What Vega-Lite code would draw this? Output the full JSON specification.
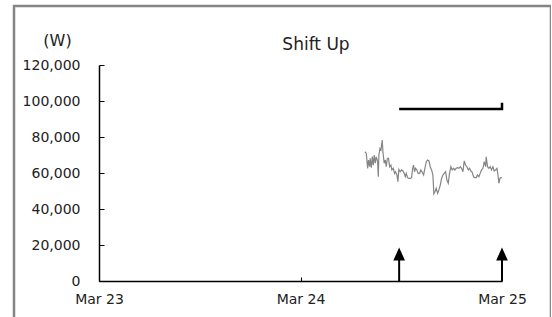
{
  "$schema": "https://vega.github.io/schema/vega-lite/v6.json",
  "autosize": "none",
  "padding": {"left": 14, "top": 6, "right": 0, "bottom": 0},
  "width": 537,
  "height": 315,
  "background": "white",
  "config": {
    "view": {"stroke": "#858585", "strokeWidth": 2.5},
    "font": "DejaVu Sans",
    "axis": {"grid": false, "domainColor": "#000", "domainWidth": 1.5, "tickColor": "#000", "tickWidth": 1, "labelFont": "DejaVu Sans", "labelFontSize": 14, "labelColor": "#222", "labelFlush": false}
  },
  "title": {"text": "Shift Up", "font": "DejaVu Sans", "fontSize": 17, "fontWeight": "normal", "color": "#222", "anchor": "middle", "frame": "group", "baseline": "alphabetic", "dx": 33.5, "dy": 65},
  "datasets": {
    "gray": [
      {"t": "2023-03-24T07:40", "v": 71800}, {"t": "2023-03-24T07:50", "v": 71000}, {"t": "2023-03-24T08:00", "v": 62600},
      {"t": "2023-03-24T08:06", "v": 67200}, {"t": "2023-03-24T08:14", "v": 63500}, {"t": "2023-03-24T08:18", "v": 68200},
      {"t": "2023-03-24T08:26", "v": 63000}, {"t": "2023-03-24T08:33", "v": 69100}, {"t": "2023-03-24T08:40", "v": 64400},
      {"t": "2023-03-24T08:47", "v": 70000}, {"t": "2023-03-24T08:54", "v": 65400}, {"t": "2023-03-24T09:01", "v": 69000},
      {"t": "2023-03-24T09:11", "v": 66300}, {"t": "2023-03-24T09:16", "v": 57900}, {"t": "2023-03-24T09:20", "v": 70000},
      {"t": "2023-03-24T09:28", "v": 73700}, {"t": "2023-03-24T09:35", "v": 72800}, {"t": "2023-03-24T09:44", "v": 78300},
      {"t": "2023-03-24T09:49", "v": 71800}, {"t": "2023-03-24T09:58", "v": 65400}, {"t": "2023-03-24T10:06", "v": 67200},
      {"t": "2023-03-24T10:13", "v": 63500}, {"t": "2023-03-24T10:20", "v": 67800}, {"t": "2023-03-24T10:29", "v": 68200},
      {"t": "2023-03-24T10:37", "v": 63500}, {"t": "2023-03-24T10:46", "v": 64400}, {"t": "2023-03-24T10:53", "v": 61700},
      {"t": "2023-03-24T11:03", "v": 62600}, {"t": "2023-03-24T11:12", "v": 59800}, {"t": "2023-03-24T11:19", "v": 60700},
      {"t": "2023-03-24T11:29", "v": 58900}, {"t": "2023-03-24T11:36", "v": 55200}, {"t": "2023-03-24T11:43", "v": 62000},
      {"t": "2023-03-24T11:53", "v": 60700}, {"t": "2023-03-24T12:02", "v": 61700}, {"t": "2023-03-24T12:12", "v": 61100},
      {"t": "2023-03-24T12:21", "v": 59800}, {"t": "2023-03-24T12:29", "v": 57900}, {"t": "2023-03-24T12:36", "v": 59800},
      {"t": "2023-03-24T12:45", "v": 57400}, {"t": "2023-03-24T12:55", "v": 57000}, {"t": "2023-03-24T13:04", "v": 57000},
      {"t": "2023-03-24T13:14", "v": 57400}, {"t": "2023-03-24T13:21", "v": 62600}, {"t": "2023-03-24T13:28", "v": 64400},
      {"t": "2023-03-24T13:35", "v": 60700}, {"t": "2023-03-24T13:42", "v": 62600}, {"t": "2023-03-24T13:52", "v": 61700},
      {"t": "2023-03-24T14:01", "v": 59800}, {"t": "2023-03-24T14:11", "v": 59800}, {"t": "2023-03-24T14:20", "v": 61700},
      {"t": "2023-03-24T14:30", "v": 60400}, {"t": "2023-03-24T14:40", "v": 58900}, {"t": "2023-03-24T14:49", "v": 62600},
      {"t": "2023-03-24T14:59", "v": 66300}, {"t": "2023-03-24T15:08", "v": 67200}, {"t": "2023-03-24T15:18", "v": 66700},
      {"t": "2023-03-24T15:27", "v": 63500}, {"t": "2023-03-24T15:37", "v": 61700}, {"t": "2023-03-24T15:46", "v": 58900},
      {"t": "2023-03-24T15:53", "v": 48400}, {"t": "2023-03-24T16:01", "v": 49600}, {"t": "2023-03-24T16:10", "v": 51500},
      {"t": "2023-03-24T16:20", "v": 48700}, {"t": "2023-03-24T16:29", "v": 50600}, {"t": "2023-03-24T16:39", "v": 53300},
      {"t": "2023-03-24T16:48", "v": 57000}, {"t": "2023-03-24T16:58", "v": 58900}, {"t": "2023-03-24T17:07", "v": 59800},
      {"t": "2023-03-24T17:17", "v": 60700}, {"t": "2023-03-24T17:26", "v": 56100}, {"t": "2023-03-24T17:36", "v": 54300},
      {"t": "2023-03-24T17:45", "v": 59800}, {"t": "2023-03-24T17:55", "v": 63500}, {"t": "2023-03-24T18:04", "v": 61700},
      {"t": "2023-03-24T18:14", "v": 62600}, {"t": "2023-03-24T18:23", "v": 61700}, {"t": "2023-03-24T18:33", "v": 62600},
      {"t": "2023-03-24T18:42", "v": 63000}, {"t": "2023-03-24T18:52", "v": 62600}, {"t": "2023-03-24T19:02", "v": 63500},
      {"t": "2023-03-24T19:11", "v": 62600}, {"t": "2023-03-24T19:21", "v": 60700}, {"t": "2023-03-24T19:30", "v": 66700},
      {"t": "2023-03-24T19:40", "v": 64400}, {"t": "2023-03-24T19:49", "v": 63500}, {"t": "2023-03-24T19:59", "v": 61700},
      {"t": "2023-03-24T20:08", "v": 62600}, {"t": "2023-03-24T20:18", "v": 61100}, {"t": "2023-03-24T20:27", "v": 60400},
      {"t": "2023-03-24T20:37", "v": 57900}, {"t": "2023-03-24T20:46", "v": 57400}, {"t": "2023-03-24T20:56", "v": 57400},
      {"t": "2023-03-24T21:05", "v": 58900}, {"t": "2023-03-24T21:15", "v": 57900}, {"t": "2023-03-24T21:24", "v": 59800},
      {"t": "2023-03-24T21:34", "v": 61700}, {"t": "2023-03-24T21:44", "v": 62600}, {"t": "2023-03-24T21:53", "v": 66300},
      {"t": "2023-03-24T22:03", "v": 63500}, {"t": "2023-03-24T22:07", "v": 69000}, {"t": "2023-03-24T22:17", "v": 63500},
      {"t": "2023-03-24T22:26", "v": 62600}, {"t": "2023-03-24T22:36", "v": 63500}, {"t": "2023-03-24T22:45", "v": 61700},
      {"t": "2023-03-24T22:55", "v": 63500}, {"t": "2023-03-24T23:04", "v": 61100}, {"t": "2023-03-24T23:14", "v": 61700},
      {"t": "2023-03-24T23:24", "v": 62600}, {"t": "2023-03-24T23:31", "v": 58900}, {"t": "2023-03-24T23:38", "v": 54300},
      {"t": "2023-03-24T23:45", "v": 57000}, {"t": "2023-03-24T23:52", "v": 57400}, {"t": "2023-03-24T23:59", "v": 57400}
    ],
    "base": [
      {"i": 1, "t": "2023-03-24T11:45", "v": 95500},
      {"i": 2, "t": "2023-03-25T00:00", "v": 95500},
      {"i": 3, "t": "2023-03-25T00:00", "v": 99000}
    ],
    "arrows": [
      {"t": "2023-03-24T11:45", "v0": 0, "v1": 13500, "head": 15000},
      {"t": "2023-03-25T00:00", "v0": 0, "v1": 13500, "head": 15000}
    ]
  },
  "encoding": {
    "x": {
      "field": "t", "type": "temporal",
      "scale": {"domain": [{"year": 2023, "month": 3, "date": 23}, {"year": 2023, "month": 3, "date": 25}], "range": [85, 488]},
      "axis": {"title": null, "offset": -40, "tickSize": -4, "labelPadding": 15, "format": "%b %d",
        "values": [{"year": 2023, "month": 3, "date": 23}, {"year": 2023, "month": 3, "date": 24}, {"year": 2023, "month": 3, "date": 25}]}
    }
  },
  "layer": [
    {
      "data": {"name": "gray"},
      "mark": {"type": "line", "color": "#858585", "strokeWidth": 1.2},
      "encoding": {
        "y": {
          "field": "v", "type": "quantitative",
          "scale": {"domain": [0, 120000], "range": [275, 59], "nice": false, "zero": false},
          "axis": {"title": "(W)", "titleAngle": 0, "titleX": -42, "titleY": 34, "titleAlign": "center", "titleBaseline": "middle",
            "titleFont": "DejaVu Sans", "titleFontSize": 16, "titleFontWeight": "normal", "titleColor": "#222",
            "offset": -85, "tickSize": -5, "labelPadding": 24, "format": ",.0f",
            "values": [0, 20000, 40000, 60000, 80000, 100000, 120000]}
        }
      }
    },
    {
      "data": {"name": "base"},
      "mark": {"type": "line", "color": "#000", "strokeWidth": 2.5},
      "encoding": {
        "y": {"field": "v", "type": "quantitative"},
        "order": {"field": "i"}
      }
    },
    {
      "data": {"name": "arrows"},
      "mark": {"type": "rule", "color": "#000", "strokeWidth": 2},
      "encoding": {
        "y": {"field": "v0", "type": "quantitative"},
        "y2": {"field": "v1"}
      }
    },
    {
      "data": {"name": "arrows"},
      "mark": {"type": "point", "shape": "M0,-1L-0.9,1L0.9,1Z", "filled": true, "color": "#000", "opacity": 1, "size": 169},
      "encoding": {
        "y": {"field": "head", "type": "quantitative"}
      }
    }
  ]
}
